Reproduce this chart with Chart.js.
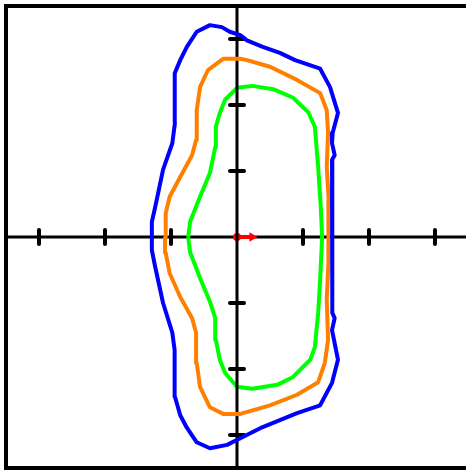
<!DOCTYPE html>
<html>
<head>
<meta charset="utf-8">
<script src="https://cdn.jsdelivr.net/npm/chart.js@4/dist/chart.umd.min.js"></script>
<style>
  html, body { margin: 0; padding: 0; background: #fff; overflow: hidden; }
  canvas { display: block; }
</style>
</head>
<body>
<canvas id="contourChart" width="466" height="473"></canvas>
<script>
// outer contour (blue)
const blueCurve = [
    [-1.29, 0], [-1.29, 0.23], [-1.24, 0.45], [-1.12, 1.02], [-0.98, 1.42], [-0.94, 1.73],
    [-0.94, 2.08], [-0.95, 2.33], [-0.94, 2.48], [-0.86, 2.68], [-0.76, 2.88], [-0.61, 3.11],
    [-0.41, 3.21], [-0.23, 3.18], [-0.11, 3.11], [0.05, 3.06], [0.15, 2.98], [0.39, 2.88],
    [0.65, 2.79], [0.88, 2.68], [1.26, 2.55], [1.41, 2.27], [1.53, 1.88], [1.45, 1.58],
    [1.44, 1.42], [1.48, 1.24], [1.44, 1.17], [1.44, 0.76], [1.45, 0.30], [1.45, 0],
    [1.44, -0.80], [1.44, -1.15], [1.48, -1.23], [1.44, -1.41], [1.53, -1.86], [1.44, -2.21],
    [1.26, -2.55], [0.91, -2.67], [0.39, -2.88], [0.05, -3.05], [-0.15, -3.15], [-0.41, -3.20],
    [-0.61, -3.11], [-0.76, -2.89], [-0.86, -2.70], [-0.94, -2.42], [-0.95, -2.06], [-0.94, -1.71],
    [-0.98, -1.45], [-1.12, -1.00], [-1.24, -0.45], [-1.29, -0.20]
];

// middle contour (orange)
const orangeCurve = [
    [-1.09, 0], [-1.08, 0.36], [-1.02, 0.61], [-0.86, 0.91], [-0.68, 1.24], [-0.62, 1.47],
    [-0.61, 1.92], [-0.56, 2.27], [-0.44, 2.53], [-0.21, 2.70], [0.05, 2.70], [0.15, 2.68],
    [0.50, 2.58], [0.91, 2.38], [1.26, 2.18], [1.36, 1.92], [1.38, 1.58], [1.36, 1.06],
    [1.39, 0.56], [1.39, 0], [1.38, -0.39], [1.36, -0.95], [1.38, -1.56], [1.33, -1.91],
    [1.23, -2.20], [0.91, -2.39], [0.50, -2.55], [0.05, -2.68], [-0.21, -2.68], [-0.41, -2.58],
    [-0.56, -2.27], [-0.61, -1.91], [-0.62, -1.45], [-0.68, -1.23], [-0.86, -0.91], [-1.02, -0.55],
    [-1.08, -0.24]
];

// inner contour (green)
const greenCurve = [
    [-0.74, 0], [-0.71, 0.23], [-0.56, 0.61], [-0.41, 0.97], [-0.33, 1.36], [-0.32, 1.67],
    [-0.26, 1.88], [-0.18, 2.08], [0, 2.26], [0.23, 2.29], [0.55, 2.24], [0.85, 2.11],
    [1.08, 1.89], [1.18, 1.67], [1.23, 1.06], [1.27, 0.45], [1.29, 0], [1.26, -0.65],
    [1.23, -1.15], [1.18, -1.67], [1.11, -1.86], [0.85, -2.12], [0.61, -2.24], [0.23, -2.30],
    [0, -2.27], [-0.18, -2.06], [-0.26, -1.86], [-0.32, -1.56], [-0.33, -1.23], [-0.41, -0.98],
    [-0.56, -0.62], [-0.71, -0.23]
];

const arrowX = [0, 0.23];
const arrowY = [0, 0];
const tickValues = [-3, -2, -1, 0, 1, 2, 3];

function closed(curve) {
    const pts = curve.map(p => ({ x: p[0], y: p[1] }));
    pts.push({ x: curve[0][0], y: curve[0][1] });
    return pts;
}

// box (right side falls off the picture), axes and tick marks from the scales
const axesPlugin = {
    id: 'crossAxes',
    beforeDatasetsDraw(chart) {
        const { ctx, chartArea, scales } = chart;
        const y0 = scales.y.getPixelForValue(0);
        ctx.save();
        ctx.strokeStyle = '#000';
        ctx.lineWidth = 4;
        ctx.beginPath();
        ctx.moveTo(chart.width + 2, chartArea.top);
        ctx.lineTo(chartArea.left, chartArea.top);
        ctx.lineTo(chartArea.left, chartArea.bottom);
        ctx.lineTo(chart.width + 2, chartArea.bottom);
        ctx.stroke();
        ctx.lineWidth = 3;
        ctx.beginPath();
        ctx.moveTo(chartArea.left, y0);
        ctx.lineTo(chart.width, y0);
        ctx.stroke();
        ctx.lineWidth = 4;
        ctx.lineCap = 'round';
        tickValues.forEach(v => {
            if (v === 0) return;
            const px = scales.x.getPixelForValue(v);
            ctx.beginPath();
            ctx.moveTo(px, y0 - 7);
            ctx.lineTo(px, y0 + 7);
            ctx.stroke();
        });
        ctx.restore();
    },
    afterDatasetDraw(chart, args) {
        if (args.index !== 2) return;
        const { ctx, chartArea, scales } = chart;
        const x0 = scales.x.getPixelForValue(0);
        ctx.save();
        ctx.strokeStyle = '#000';
        ctx.lineWidth = 3;
        ctx.beginPath();
        ctx.moveTo(x0, chartArea.top);
        ctx.lineTo(x0, chartArea.bottom);
        ctx.stroke();
        ctx.lineWidth = 4;
        ctx.lineCap = 'round';
        tickValues.forEach(v => {
            if (v === 0) return;
            const py = scales.y.getPixelForValue(v);
            ctx.beginPath();
            ctx.moveTo(x0 - 7, py);
            ctx.lineTo(x0 + 7, py);
            ctx.stroke();
        });
        ctx.restore();
    }
};

const ctx = document.getElementById('contourChart').getContext('2d');

const lineStyle = { showLine: true, fill: false, tension: 0, pointRadius: 0, borderWidth: 4, borderJoinStyle: 'round' };

const config = {
    type: 'scatter',
    data: {
        datasets: [
            Object.assign({ label: 'outer', data: closed(blueCurve), borderColor: '#0000ff' }, lineStyle),
            Object.assign({ label: 'middle', data: closed(orangeCurve), borderColor: '#ff8000' }, lineStyle),
            Object.assign({ label: 'inner', data: closed(greenCurve), borderColor: '#00ff00' }, lineStyle),
            {
                label: 'arrow',
                data: arrowX.map((x, i) => ({ x: x, y: arrowY[i] })),
                showLine: true,
                borderColor: '#ff0000',
                backgroundColor: '#ff0000',
                borderWidth: 4,
                pointRadius: [4, 5.5],
                pointStyle: ['circle', 'triangle'],
                rotation: [0, 90],
                pointBorderWidth: 0
            }
        ]
    },
    options: {
        responsive: false,
        animation: false,
        events: [],
        layout: { autoPadding: false, padding: { left: 6, top: 6, right: 0, bottom: 5 } },
        plugins: { legend: { display: false }, tooltip: { enabled: false } },
        scales: {
            x: { type: 'linear', min: -3.5, max: 3.47, display: false },
            y: { type: 'linear', min: -3.5, max: 3.5, display: false }
        }
    },
    plugins: [axesPlugin]
};

const myChart = new Chart(ctx, config);
</script>
</body>
</html>
